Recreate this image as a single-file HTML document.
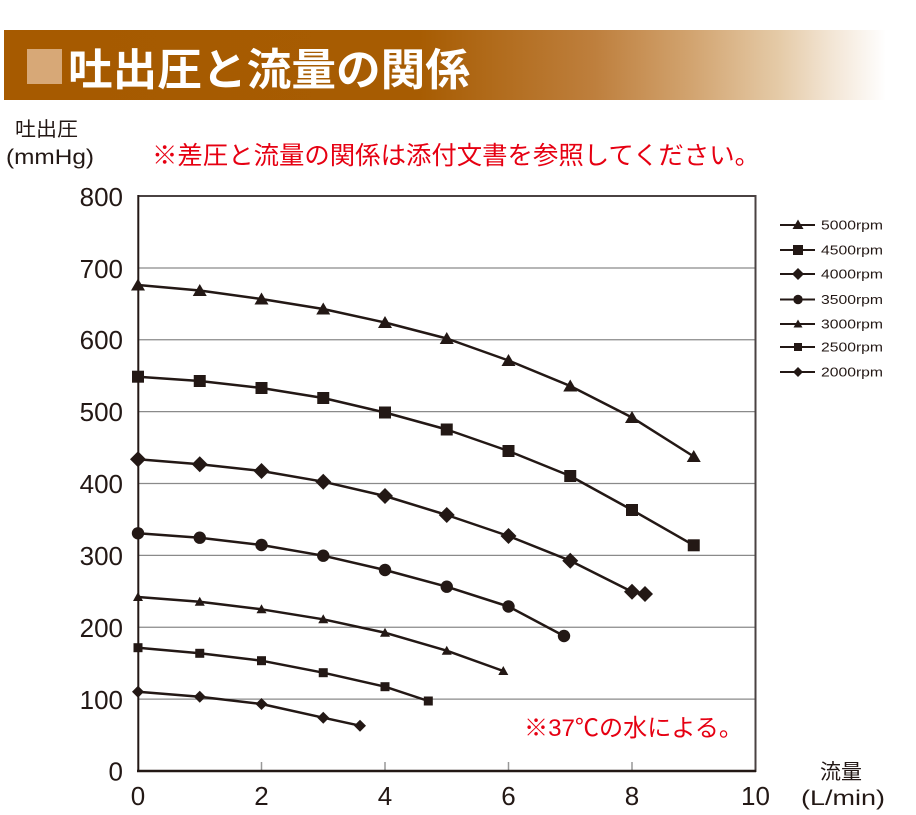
<!DOCTYPE html>
<html>
<head>
<meta charset="utf-8">
<style>
html,body{margin:0;padding:0;background:#fff;}
svg{display:block;}
text{font-family:"Liberation Sans","Noto Sans CJK JP",sans-serif;}
.cjk{font-family:"Liberation Sans","Noto Sans CJK JP",sans-serif;}
</style>
</head>
<body>
<svg width="916" height="815" viewBox="0 0 916 815" xmlns="http://www.w3.org/2000/svg">
<defs>
<linearGradient id="bg" x1="4" y1="0" x2="886" y2="0" gradientUnits="userSpaceOnUse">
<stop offset="0" stop-color="#a65a00"/>
<stop offset="0.47" stop-color="#a75c02"/>
<stop offset="0.67" stop-color="#be7f3d"/>
<stop offset="0.78" stop-color="#d2a470"/>
<stop offset="0.88" stop-color="#e5cba8"/>
<stop offset="0.94" stop-color="#f3e6d6"/>
<stop offset="1" stop-color="#ffffff"/>
</linearGradient>
<path id="TB" d="M0,-6.5 L7,5.5 L-7,5.5Z" fill="#231815"/>
<rect id="SB" x="-6" y="-6" width="12" height="12" fill="#231815"/>
<path id="DB" d="M0,-8 L8,0 L0,8 L-8,0Z" fill="#231815"/>
<circle id="CB" cx="0" cy="0" r="6.2" fill="#231815"/>
<path id="TS" d="M0,-5 L5,4 L-5,4Z" fill="#231815"/>
<rect id="SS" x="-4.5" y="-4.5" width="9" height="9" fill="#231815"/>
<path id="DS" d="M0,-6 L6,0 L0,6 L-6,0Z" fill="#231815"/>
</defs>

<!-- Header banner -->
<rect x="4" y="30" width="882" height="70" fill="url(#bg)"/>
<rect x="27" y="49" width="35" height="35" fill="#d7a877"/>
<text x="68" y="85" font-size="44" font-weight="bold" fill="#ffffff" class="cjk" textLength="402" lengthAdjust="spacingAndGlyphs">吐出圧と流量の関係</text>

<!-- Axis titles -->
<text x="15" y="136" font-size="20" fill="#231815" textLength="63" lengthAdjust="spacingAndGlyphs">吐出圧</text>
<text x="6" y="164" font-size="21" fill="#231815" textLength="88" lengthAdjust="spacingAndGlyphs">(mmHg)</text>
<text x="152" y="164" font-size="25" fill="#e60012" textLength="608" lengthAdjust="spacingAndGlyphs">※差圧と流量の関係は添付文書を参照してください。</text>

<!-- Gridlines -->
<g stroke="#8a8a8a" stroke-width="1.2">
<line x1="139" y1="699.1" x2="755" y2="699.1"/>
<line x1="139" y1="627.25" x2="755" y2="627.25"/>
<line x1="139" y1="555.4" x2="755" y2="555.4"/>
<line x1="139" y1="483.5" x2="755" y2="483.5"/>
<line x1="139" y1="411.6" x2="755" y2="411.6"/>
<line x1="139" y1="339.75" x2="755" y2="339.75"/>
<line x1="139" y1="268" x2="755" y2="268"/>
</g>
<!-- bottom ticks -->
<g stroke="#999" stroke-width="1.5">
<line x1="261.5" y1="762" x2="261.5" y2="771"/>
<line x1="385" y1="762" x2="385" y2="771"/>
<line x1="508.5" y1="762" x2="508.5" y2="771"/>
<line x1="632" y1="762" x2="632" y2="771"/>
</g>
<!-- Frame -->
<line x1="138" y1="196" x2="756" y2="196" stroke="#4a4242" stroke-width="2"/>
<line x1="755.5" y1="195" x2="755.5" y2="772" stroke="#4a4242" stroke-width="2"/>
<line x1="138.3" y1="195" x2="138.3" y2="772" stroke="#231815" stroke-width="2"/>
<line x1="137" y1="771" x2="756" y2="771" stroke="#231815" stroke-width="2.5"/>

<!-- Y labels -->
<g font-size="26" fill="#231815" text-anchor="end">
<text x="123" y="206">800</text>
<text x="123" y="278">700</text>
<text x="123" y="349">600</text>
<text x="123" y="421">500</text>
<text x="123" y="493">400</text>
<text x="123" y="565">300</text>
<text x="123" y="637">200</text>
<text x="123" y="709">100</text>
<text x="123" y="780.5">0</text>
</g>
<!-- X labels -->
<g font-size="26" fill="#231815" text-anchor="middle">
<text x="138" y="805">0</text>
<text x="261.5" y="805">2</text>
<text x="385" y="805">4</text>
<text x="508.5" y="805">6</text>
<text x="632" y="805">8</text>
<text x="755.5" y="805">10</text>
</g>
<text x="820" y="779" font-size="21" fill="#231815" textLength="42" lengthAdjust="spacingAndGlyphs">流量</text>
<text x="801" y="805" font-size="21" fill="#231815" textLength="84" lengthAdjust="spacingAndGlyphs">(L/min)</text>

<!-- Series lines -->
<g fill="none" stroke="#231815" stroke-width="2.5" stroke-linejoin="round" stroke-linecap="round">
<polyline points="138,285 199.75,290.5 261.5,299 323.25,309 385,322.5 446.75,338.5 508.5,360.5 570.25,386 632,417.5 693.75,456.5"/>
<polyline points="138,376.7 199.75,381 261.5,388 323.25,398 385,412.5 446.75,429.5 508.5,451 570.25,476 632,510 693.75,545.3"/>
<polyline points="138,459.3 199.75,464.3 261.5,471 323.25,481.7 385,496 446.75,515 508.5,536 570.25,560.7 632,591.7 645,594"/>
<polyline points="138,533.3 199.75,537.7 261.5,545 323.25,555.7 385,570 446.75,586.7 508.5,606.5 564,636"/>
<polyline points="138,597 199.75,601.7 261.5,609.3 323.25,619.3 385,632.7 446.75,650.7 503.3,671"/>
<polyline points="138,647.7 199.75,653.3 261.5,660.7 323.25,672.7 385,686.7 428.3,701"/>
<polyline points="138,691.7 199.75,696.7 261.5,704 323.25,717.7 360,725.7"/>
</g>

<!-- Markers -->
<g>
<use href="#TB" x="138" y="285"/><use href="#TB" x="199.75" y="290.5"/><use href="#TB" x="261.5" y="299"/><use href="#TB" x="323.25" y="309"/><use href="#TB" x="385" y="322.5"/><use href="#TB" x="446.75" y="338.5"/><use href="#TB" x="508.5" y="360.5"/><use href="#TB" x="570.25" y="386"/><use href="#TB" x="632" y="417.5"/><use href="#TB" x="693.75" y="456.5"/>

<use href="#SB" x="138" y="376.7"/><use href="#SB" x="199.75" y="381"/><use href="#SB" x="261.5" y="388"/><use href="#SB" x="323.25" y="398"/><use href="#SB" x="385" y="412.5"/><use href="#SB" x="446.75" y="429.5"/><use href="#SB" x="508.5" y="451"/><use href="#SB" x="570.25" y="476"/><use href="#SB" x="632" y="510"/><use href="#SB" x="693.75" y="545.3"/>

<use href="#DB" x="138" y="459.3"/><use href="#DB" x="199.75" y="464.3"/><use href="#DB" x="261.5" y="471"/><use href="#DB" x="323.25" y="481.7"/><use href="#DB" x="385" y="496"/><use href="#DB" x="446.75" y="515"/><use href="#DB" x="508.5" y="536"/><use href="#DB" x="570.25" y="560.7"/><use href="#DB" x="632" y="591.7"/><use href="#DB" x="645" y="594"/>

<use href="#CB" x="138" y="533.3"/><use href="#CB" x="199.75" y="537.7"/><use href="#CB" x="261.5" y="545"/><use href="#CB" x="323.25" y="555.7"/><use href="#CB" x="385" y="570"/><use href="#CB" x="446.75" y="586.7"/><use href="#CB" x="508.5" y="606.5"/><use href="#CB" x="564" y="636"/>

<use href="#TS" x="138" y="597"/><use href="#TS" x="199.75" y="601.7"/><use href="#TS" x="261.5" y="609.3"/><use href="#TS" x="323.25" y="619.3"/><use href="#TS" x="385" y="632.7"/><use href="#TS" x="446.75" y="650.7"/><use href="#TS" x="503.3" y="671"/>

<use href="#SS" x="138" y="647.7"/><use href="#SS" x="199.75" y="653.3"/><use href="#SS" x="261.5" y="660.7"/><use href="#SS" x="323.25" y="672.7"/><use href="#SS" x="385" y="686.7"/><use href="#SS" x="428.3" y="701"/>

<use href="#DS" x="138" y="691.7"/><use href="#DS" x="199.75" y="696.7"/><use href="#DS" x="261.5" y="704"/><use href="#DS" x="323.25" y="717.7"/><use href="#DS" x="360" y="725.7"/>
</g>

<!-- note -->
<text x="524" y="736" font-size="24" fill="#e60012" textLength="219" lengthAdjust="spacingAndGlyphs">※37℃の水による。</text>

<!-- Legend -->
<g stroke="#231815" stroke-width="2">
<line x1="780" y1="225" x2="815" y2="225"/>
<line x1="780" y1="250" x2="815" y2="250"/>
<line x1="780" y1="274" x2="815" y2="274"/>
<line x1="780" y1="299.5" x2="815" y2="299.5"/>
<line x1="780" y1="324" x2="815" y2="324"/>
<line x1="780" y1="347" x2="815" y2="347"/>
<line x1="780" y1="372" x2="815" y2="372"/>
</g>
<path d="M798,219.5 L803.5,229 L792.5,229Z" fill="#231815"/>
<rect x="793" y="245" width="10" height="10" fill="#231815"/>
<path d="M798,268 L804,274 L798,280 L792,274Z" fill="#231815"/>
<circle cx="798" cy="299.5" r="4.7" fill="#231815"/>
<path d="M798,319.5 L802.5,327.5 L793.5,327.5Z" fill="#231815"/>
<rect x="794" y="343" width="8" height="8" fill="#231815"/>
<path d="M798,367 L803,372 L798,377 L793,372Z" fill="#231815"/>
<g font-size="13" fill="#231815">
<text x="821" y="229.5" textLength="62" lengthAdjust="spacingAndGlyphs">5000rpm</text>
<text x="821" y="254.5" textLength="62" lengthAdjust="spacingAndGlyphs">4500rpm</text>
<text x="821" y="278.5" textLength="62" lengthAdjust="spacingAndGlyphs">4000rpm</text>
<text x="821" y="304" textLength="62" lengthAdjust="spacingAndGlyphs">3500rpm</text>
<text x="821" y="328.5" textLength="62" lengthAdjust="spacingAndGlyphs">3000rpm</text>
<text x="821" y="351.5" textLength="62" lengthAdjust="spacingAndGlyphs">2500rpm</text>
<text x="821" y="376.5" textLength="62" lengthAdjust="spacingAndGlyphs">2000rpm</text>
</g>
</svg>
</body>
</html>
